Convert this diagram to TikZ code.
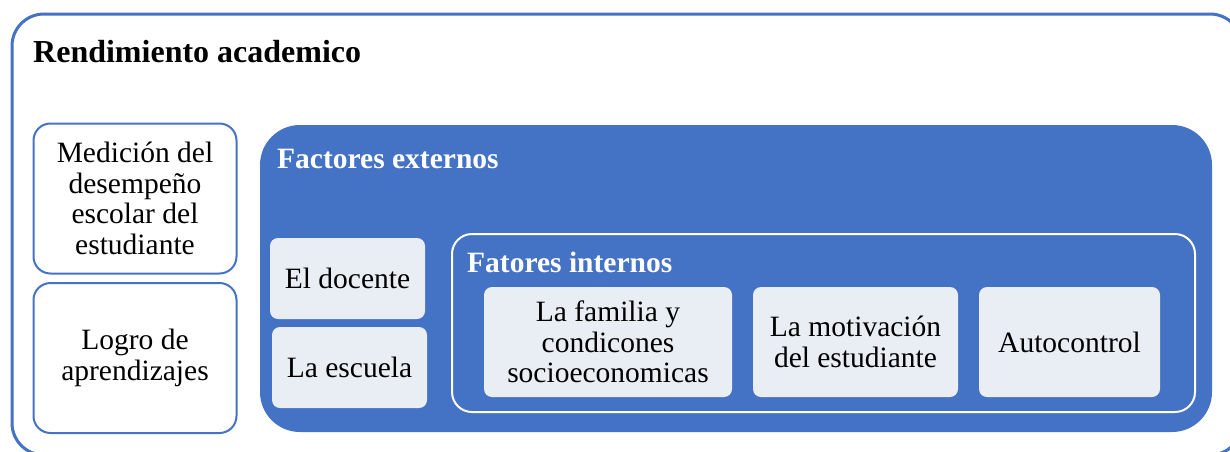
\documentclass[tikz,border=0pt]{standalone}
\usepackage{fontspec}
\setmainfont{Liberation Serif}
\usetikzlibrary{positioning}
\definecolor{accblue}{HTML}{4472C4}
\definecolor{lightfill}{HTML}{E9EDF4}
\tikzset{
  outerframe/.style={draw=accblue, line width=3pt, rounded corners=32pt},
  whitebox/.style={draw=accblue, line width=2pt, fill=white, rounded corners=17pt,
    align=center, inner sep=0pt, font=\fontsize{29.5}{30.5}\selectfont},
  extbox/.style={fill=accblue, rounded corners=40pt, inner sep=0pt},
  intbox/.style={draw=white, line width=2pt, rounded corners=20pt, inner sep=0pt},
  lightbox/.style={fill=lightfill, rounded corners=8pt, align=center, inner sep=0pt,
    font=\fontsize{29.5}{30.5}\selectfont},
  headtext/.style={anchor=base west, inner sep=0pt, font=\bfseries\fontsize{29.5}{31}\selectfont, text=white}
}

\begin{document}
\begin{tikzpicture}[x=1pt,y=-1pt]
\useasboundingbox (0,0) rectangle (1230,451);
\clip (0,0) rectangle (1230,451);
\fill[white] (0,0) rectangle (1230,451);

\draw[outerframe] (12,14) rectangle (1242,455);
\node[anchor=base west, inner sep=0pt, font=\bfseries\fontsize{32}{36}\selectfont] (title) at (33,62) {Rendimiento academico};

\node[whitebox, minimum width=203pt, minimum height=150pt] (medicion) at (135,198.5)
  {Medición del\\desempeño\\escolar del\\estudiante};
\node[whitebox, minimum width=203pt, minimum height=150pt] (logro) at (135,358)
  {Logro de\\aprendizajes};

\node[extbox, minimum width=952pt, minimum height=307pt] (externos) at (736,278.5) {};
\node[headtext] (extlabel) at (277,168) {Factores externos};

\node[lightbox, minimum width=155pt, minimum height=81pt] (docente) at (347.5,278.5) {El docente};
\node[lightbox, minimum width=155pt, minimum height=81pt] (escuela) at (349.5,367.5) {La escuela};

\node[intbox, minimum width=743pt, minimum height=178pt] (internos) at (823.5,323) {};
\node[headtext] (intlabel) at (467,272) {Fatores internos};

\node[lightbox, minimum width=248pt, minimum height=110pt] (familia) at (608,342)
  {La familia y\\condicones\\socioeconomicas};
\node[lightbox, minimum width=205pt, minimum height=110pt] (motivacion) at (855.5,342)
  {La motivación\\del estudiante};
\node[lightbox, minimum width=181pt, minimum height=110pt] (autocontrol) at (1069.5,342) {Autocontrol};
\end{tikzpicture}
\end{document}
